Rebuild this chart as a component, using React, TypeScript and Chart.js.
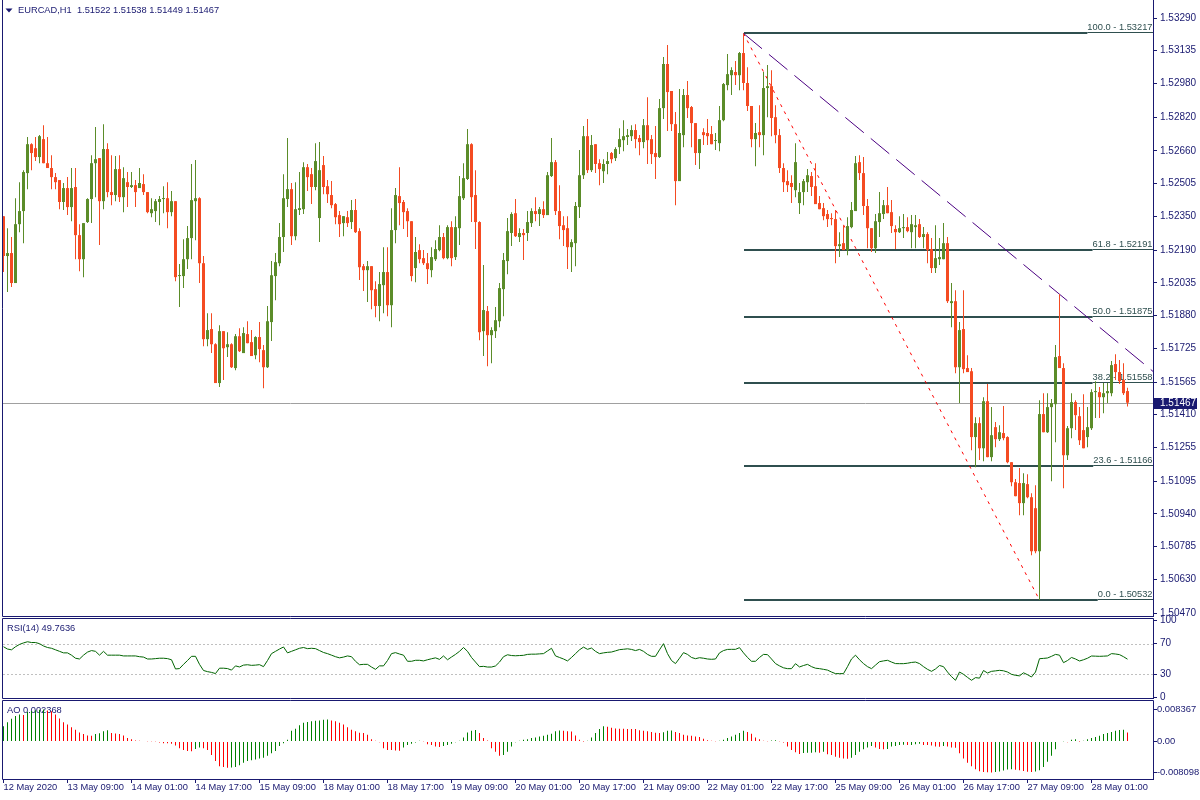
import React, { useEffect, useRef } from "react";
import { Chart, registerables } from "chart.js";

Chart.register(...registerables);

const FONT = '"Liberation Sans", Arial, sans-serif';
const NAVY = "#191970";
const BULL = "#5b8c29";
const BEAR = "#f44b22";
const FIB = "#2f4f4f";

const symbolTitle = "EURCAD,H1";

const timeLabels = [
  "12 May 2020", "13 May 09:00", "14 May 01:00", "14 May 17:00", "15 May 09:00",
  "18 May 01:00", "18 May 17:00", "19 May 09:00", "20 May 01:00", "20 May 17:00",
  "21 May 09:00", "22 May 01:00", "22 May 17:00", "25 May 09:00", "26 May 01:00",
  "26 May 17:00", "27 May 09:00", "28 May 01:00",
];
const timeLabelStep = 16;

const priceTicks = [
  1.5329, 1.53135, 1.5298, 1.5282, 1.5266, 1.52505, 1.5235, 1.5219, 1.52035, 1.5188,
  1.51725, 1.51565, 1.5141, 1.51255, 1.51095, 1.5094, 1.50785, 1.5063, 1.5047,
];

const openP = [
  1.52351,1.52162,1.52176,1.52034,1.52313,1.52375,1.52555,1.52692,1.52673,1.52631,
  1.52716,1.52602,1.52579,1.52536,1.52522,1.52418,1.52484,1.52394,1.52489,1.52261,
  1.52147,1.52323,1.52432,1.52602,1.52626,1.52422,1.52669,1.52465,1.52451,1.52574,
  1.52441,1.52512,1.52489,1.52498,1.52484,1.52503,1.52465,1.52365,1.52375,1.52418,
  1.52432,1.52436,1.52370,1.52422,1.52067,1.52067,1.52147,1.52247,1.52422,1.52436,
  1.52128,1.51768,1.51816,1.51744,1.51560,1.51806,1.51730,1.51744,1.51631,1.51782,
  1.51702,1.51792,1.51754,1.51692,1.51778,1.51716,1.51635,1.51849,1.52067,1.52128,
  1.52252,1.52432,1.52479,1.52256,1.52380,1.52384,1.52583,1.52550,1.52489,1.52342,
  1.52593,1.52493,1.52451,1.52408,1.52356,1.52318,1.52346,1.52323,1.52380,1.52280,
  1.52114,1.52095,1.52114,1.52005,1.51925,1.52024,1.52086,1.51929,1.52285,1.52446,
  1.52418,1.52375,1.52327,1.52105,1.52190,1.52152,1.52128,1.52095,1.52147,1.52190,
  1.52252,1.52152,1.52299,1.52157,1.52294,1.52436,1.52527,1.52692,1.52451,1.52323,
  1.51806,1.51901,1.51787,1.51806,1.51853,1.52005,1.52138,1.52271,1.52365,1.52252,
  1.52271,1.52271,1.52318,1.52375,1.52361,1.52384,1.52356,1.52541,1.52607,1.52375,
  1.52308,1.52294,1.52204,1.52223,1.52394,1.52545,1.52730,1.52569,1.52692,1.52602,
  1.52564,1.52598,1.52650,1.52626,1.52678,1.52711,1.52726,1.52730,1.52759,1.52721,
  1.52702,1.52782,1.52716,1.52650,1.52631,1.52863,1.53072,1.52944,1.52787,1.52517,
  1.52735,1.52925,1.52868,1.52792,1.52650,1.52749,1.52745,1.52740,1.52707,1.52697,
  1.52806,1.52972,1.53019,1.53034,1.53019,1.53124,1.52982,1.52873,1.52716,1.52749,
  1.52735,1.52958,1.52967,1.52820,1.52735,1.52579,1.52517,1.52508,1.52474,1.52413,
  1.52465,1.52512,1.52541,1.52493,1.52413,1.52389,1.52361,1.52342,1.52337,1.52209,
  1.52223,1.52190,1.52299,1.52375,1.52607,1.52555,1.52399,1.52294,1.52199,1.52323,
  1.52361,1.52403,1.52370,1.52290,1.52275,1.52294,1.52299,1.52275,1.52299,1.52313,
  1.52252,1.52266,1.52195,1.52105,1.52147,1.52147,1.52223,1.51939,1.51948,1.51635,
  1.51816,1.51631,1.51616,1.51304,1.51370,1.51251,1.51474,1.51209,1.51351,1.51294,
  1.51323,1.51304,1.51185,1.51090,1.51086,1.50991,1.51081,1.51019,1.50967,1.50763,
  1.51413,1.51327,1.51446,1.51460,1.51688,1.51631,1.51218,1.51346,1.51470,1.51403,
  1.51337,1.51304,1.51346,1.51517,1.51517,1.51493,1.51512,1.51512,1.51650,1.51612,
  1.51574,1.51522,
];

const highP = [
  1.52351,1.52294,1.52252,1.52436,1.52512,1.52569,1.52726,1.52697,1.52726,1.52735,
  1.52782,1.52726,1.52640,1.52555,1.52522,1.52508,1.52536,1.52579,1.52579,1.52313,
  1.52318,1.52436,1.52640,1.52773,1.52626,1.52787,1.52697,1.52640,1.52636,1.52640,
  1.52583,1.52560,1.52560,1.52522,1.52579,1.52550,1.52465,1.52436,1.52432,1.52446,
  1.52493,1.52512,1.52470,1.52422,1.52124,1.52242,1.52304,1.52598,1.52617,1.52441,
  1.52162,1.51891,1.51891,1.51749,1.51834,1.51806,1.51801,1.51749,1.51792,1.51820,
  1.51825,1.51853,1.51811,1.51782,1.51849,1.51740,1.51925,1.52138,1.52176,1.52318,
  1.52550,1.52721,1.52508,1.52512,1.52560,1.52607,1.52598,1.52579,1.52697,1.52702,
  1.52636,1.52522,1.52517,1.52413,1.52375,1.52351,1.52375,1.52427,1.52432,1.52294,
  1.52124,1.52138,1.52114,1.52043,1.52086,1.52204,1.52204,1.52389,1.52484,1.52583,
  1.52427,1.52389,1.52327,1.52252,1.52218,1.52190,1.52176,1.52204,1.52237,1.52308,
  1.52271,1.52308,1.52327,1.52351,1.52541,1.52602,1.52764,1.52697,1.52569,1.52327,
  1.52119,1.51925,1.51825,1.51920,1.52034,1.52176,1.52342,1.52370,1.52432,1.52294,
  1.52290,1.52375,1.52389,1.52441,1.52394,1.52422,1.52560,1.52721,1.52617,1.52498,
  1.52351,1.52351,1.52242,1.52418,1.52664,1.52778,1.52811,1.52735,1.52692,1.52621,
  1.52621,1.52655,1.52655,1.52678,1.52768,1.52806,1.52764,1.52782,1.52787,1.52735,
  1.52811,1.52915,1.52735,1.52778,1.52906,1.53105,1.53162,1.52944,1.52844,1.52953,
  1.52953,1.52991,1.52873,1.52792,1.52716,1.52768,1.52811,1.52778,1.52745,1.52873,
  1.52982,1.53119,1.53057,1.53086,1.53129,1.53217,1.53057,1.52873,1.52792,1.52877,
  1.53034,1.53067,1.53043,1.52877,1.52764,1.52602,1.52569,1.52545,1.52697,1.52508,
  1.52527,1.52574,1.52560,1.52602,1.52446,1.52413,1.52380,1.52365,1.52380,1.52275,
  1.52308,1.52346,1.52418,1.52636,1.52640,1.52631,1.52432,1.52294,1.52361,1.52465,
  1.52427,1.52489,1.52427,1.52308,1.52351,1.52361,1.52346,1.52356,1.52356,1.52337,
  1.52299,1.52275,1.52247,1.52308,1.52247,1.52318,1.52252,1.52034,1.52000,1.51849,
  1.52000,1.51692,1.51631,1.51398,1.51398,1.51493,1.51555,1.51446,1.51375,1.51360,
  1.51451,1.51308,1.51185,1.51105,1.51157,1.51133,1.51128,1.51038,1.51076,1.51479,
  1.51512,1.51512,1.51484,1.51740,1.51981,1.51654,1.51356,1.51512,1.51479,1.51446,
  1.51507,1.51446,1.51531,1.51569,1.51541,1.51560,1.51560,1.51664,1.51697,1.51669,
  1.51654,1.51538,
];

const lowP = [
  1.52086,1.51991,1.52015,1.52034,1.52275,1.52223,1.52479,1.52569,1.52612,1.52602,
  1.52602,1.52579,1.52479,1.52479,1.52384,1.52380,1.52356,1.52327,1.52147,1.52090,
  1.52062,1.52318,1.52318,1.52441,1.52214,1.52384,1.52441,1.52403,1.52422,1.52418,
  1.52370,1.52394,1.52484,1.52394,1.52484,1.52451,1.52365,1.52346,1.52323,1.52308,
  1.52365,1.52294,1.52351,1.52043,1.51920,1.52010,1.52100,1.52147,1.52237,1.52034,
  1.51735,1.51735,1.51702,1.51560,1.51541,1.51574,1.51683,1.51631,1.51621,1.51707,
  1.51702,1.51749,1.51688,1.51673,1.51659,1.51536,1.51631,1.51759,1.51953,1.52114,
  1.52181,1.52394,1.52214,1.52237,1.52356,1.52361,1.52470,1.52408,1.52474,1.52228,
  1.52455,1.52413,1.52389,1.52313,1.52252,1.52256,1.52299,1.52290,1.52271,1.52048,
  1.51996,1.51944,1.51910,1.51872,1.51853,1.51891,1.51877,1.51825,1.52223,1.52308,
  1.52290,1.52252,1.52043,1.52038,1.52128,1.52119,1.52029,1.52062,1.52138,1.52185,
  1.52147,1.52147,1.52114,1.52143,1.52214,1.52427,1.52522,1.52323,1.52195,1.51763,
  1.51688,1.51640,1.51654,1.51773,1.51825,1.51877,1.52076,1.52209,1.52252,1.52228,
  1.52143,1.52233,1.52299,1.52327,1.52304,1.52342,1.52356,1.52536,1.52356,1.52242,
  1.52209,1.52100,1.52086,1.52114,1.52342,1.52527,1.52555,1.52560,1.52555,1.52498,
  1.52508,1.52550,1.52602,1.52612,1.52645,1.52659,1.52688,1.52707,1.52673,1.52640,
  1.52673,1.52598,1.52598,1.52527,1.52626,1.52811,1.52754,1.52754,1.52403,1.52517,
  1.52678,1.52816,1.52678,1.52593,1.52574,1.52688,1.52688,1.52692,1.52664,1.52659,
  1.52801,1.52948,1.52925,1.52972,1.52948,1.52948,1.52849,1.52678,1.52588,1.52678,
  1.52640,1.52820,1.52730,1.52697,1.52555,1.52465,1.52465,1.52413,1.52441,1.52361,
  1.52403,1.52465,1.52446,1.52408,1.52384,1.52332,1.52299,1.52308,1.52128,1.52157,
  1.52190,1.52166,1.52294,1.52375,1.52522,1.52356,1.52199,1.52181,1.52176,1.52252,
  1.52337,1.52365,1.52271,1.52195,1.52271,1.52247,1.52275,1.52199,1.52199,1.52247,
  1.52199,1.52128,1.52081,1.52081,1.52119,1.52147,1.51939,1.51825,1.51607,1.51465,
  1.51607,1.51612,1.51242,1.51161,1.51195,1.51190,1.51209,1.51190,1.51256,1.51285,
  1.51289,1.51180,1.51071,1.51024,1.50934,1.50934,1.51014,1.50744,1.50754,1.50532,
  1.51327,1.51323,1.51095,1.51280,1.51631,1.51062,1.51195,1.51299,1.51337,1.51266,
  1.51251,1.51256,1.51337,1.51394,1.51394,1.51417,1.51465,1.51498,1.51574,1.51555,
  1.51503,1.51449,
];

const closeP = [
  1.52162,1.52176,1.52034,1.52313,1.52375,1.52560,1.52692,1.52650,1.52631,1.52730,
  1.52602,1.52579,1.52536,1.52512,1.52418,1.52484,1.52394,1.52484,1.52261,1.52147,
  1.52318,1.52432,1.52602,1.52621,1.52422,1.52669,1.52465,1.52451,1.52574,1.52441,
  1.52531,1.52489,1.52498,1.52465,1.52508,1.52465,1.52370,1.52384,1.52422,1.52432,
  1.52436,1.52370,1.52422,1.52062,1.52071,1.52147,1.52247,1.52427,1.52436,1.52128,
  1.51768,1.51811,1.51744,1.51560,1.51806,1.51725,1.51744,1.51635,1.51782,1.51711,
  1.51797,1.51749,1.51688,1.51778,1.51721,1.51635,1.51853,1.52071,1.52133,1.52252,
  1.52436,1.52479,1.52256,1.52384,1.52389,1.52583,1.52536,1.52489,1.52612,1.52569,
  1.52489,1.52455,1.52403,1.52346,1.52313,1.52351,1.52318,1.52380,1.52275,1.52109,
  1.52095,1.52114,1.52000,1.51925,1.52029,1.52086,1.51929,1.52285,1.52451,1.52413,
  1.52370,1.52327,1.52067,1.52181,1.52147,1.52128,1.52100,1.52157,1.52195,1.52252,
  1.52152,1.52299,1.52152,1.52299,1.52446,1.52531,1.52692,1.52441,1.52323,1.51801,
  1.51906,1.51787,1.51811,1.51858,1.52010,1.52143,1.52280,1.52361,1.52256,1.52271,
  1.52261,1.52323,1.52375,1.52361,1.52384,1.52356,1.52545,1.52607,1.52375,1.52304,
  1.52285,1.52204,1.52228,1.52399,1.52545,1.52730,1.52569,1.52688,1.52598,1.52574,
  1.52598,1.52612,1.52621,1.52669,1.52716,1.52730,1.52735,1.52759,1.52716,1.52702,
  1.52782,1.52711,1.52645,1.52631,1.52863,1.53072,1.52939,1.52787,1.52517,1.52745,
  1.52925,1.52863,1.52792,1.52650,1.52716,1.52735,1.52730,1.52692,1.52711,1.52806,
  1.52977,1.53024,1.53043,1.53019,1.53124,1.52982,1.52873,1.52716,1.52745,1.52735,
  1.52958,1.52967,1.52816,1.52735,1.52579,1.52512,1.52498,1.52489,1.52607,1.52465,
  1.52517,1.52545,1.52489,1.52408,1.52384,1.52351,1.52337,1.52337,1.52209,1.52218,
  1.52190,1.52304,1.52380,1.52602,1.52555,1.52399,1.52294,1.52199,1.52327,1.52365,
  1.52403,1.52365,1.52304,1.52275,1.52294,1.52299,1.52280,1.52313,1.52308,1.52252,
  1.52266,1.52190,1.52105,1.52152,1.52157,1.52223,1.51948,1.51948,1.51635,1.51811,
  1.51626,1.51612,1.51304,1.51370,1.51251,1.51474,1.51209,1.51313,1.51294,1.51327,
  1.51299,1.51185,1.51090,1.51024,1.50991,1.51086,1.51019,1.50763,1.50763,1.51413,
  1.51327,1.51446,1.51465,1.51683,1.51631,1.51218,1.51346,1.51470,1.51408,1.51289,
  1.51251,1.51351,1.51517,1.51522,1.51493,1.51512,1.51522,1.51645,1.51612,1.51569,
  1.51512,1.51467,
];

const rsiValues = [
  66,63,62,66,69,71,72.5,71.5,71.5,70,67,65,64,62,60,58,58,55,51,50,
  55,59,61,60,55,60,55,55,55,55,54,54,54,54,53,52.5,50,50,50.5,51,
  51,50.5,49,37,37.5,43,48,53.5,53.5,43,35,33.5,32.5,31,38,38,37.5,35.5,41,39.6,
  42,42.5,41.7,42,42.6,40,48,57,60,63,65.7,58,60,62,64,65,63.5,64,63.5,61,
  58.5,57,55,53,51.5,52.5,54,53,47,42.5,43,43,39.5,36.5,41,41,48,57,58.3,56.5,
  55,47,47,48.3,48.3,47.5,49,50.3,51.5,49.5,54,49,52.6,56,60,65,60,52,46,40,
  40.4,39.5,39.5,40.9,46,53,55.5,54.5,54.2,54.5,54.8,56,56.3,56.3,56.7,57,60.5,64,54,52,
  50,47.5,52,57,62,65.5,62.6,64.3,60,57,58,58.7,59.1,60.6,62.2,62.7,63.3,62.5,61,62.5,
  60,56,53.5,53.5,62,70,57,48,44,51,58.3,56,52,50.4,51.7,51,50,49.6,50,58,
  61,62.5,62.6,62.6,64.8,58,52,47,47,52,56,55.7,50,44,41,38.5,37.4,37.4,43.9,39.6,
  41.5,43,40,38,37.4,36.5,35.5,33,30.9,30.9,30.9,40,50,55,49,44,40,37.4,42,46.5,
  47.5,48.3,46,44,43.9,43.9,44.5,45.5,46,44,40,36.5,33.9,37,41.5,40,33,27,22.2,33,
  30,26,22.2,25.7,25,35,31.7,33.9,34.5,35.2,34.6,33,30,28.7,28,32,29.5,26.5,33,50.4,
  50.8,51.3,53.5,56,55,45.2,48,52,50,47.4,49,51,53.9,53.7,53.5,53.7,54,57,56.5,55.7,
  53,49.7636,
];
const rsiLevels = [70, 30];
const rsiTicks = [0, 30, 70, 100];

const aoValues = [
  0.00399,0.00506,0.00594,0.00665,0.0071,0.00692,0.00781,0.00798,0.00816,0.0083,
  0.008367,0.00815,0.0079,0.0071,0.00603,0.00506,0.00444,0.00373,0.0031,0.00239,
  0.00195,0.0016,0.00151,0.00195,0.00213,0.00266,0.00293,0.00222,0.0021,0.00195,
  0.0016,0.00089,0.00062,0.00027,0.00018,0.00013,0.00009,0.00004,-0.00009,-0.00027,
  -0.00044,-0.00049,-0.00062,-0.00106,-0.00177,-0.00222,-0.00248,-0.00253,-0.00195,-0.0016,
  -0.00177,-0.00222,-0.00355,-0.00514,-0.00648,-0.00665,-0.00685,-0.0068,-0.00665,-0.00621,
  -0.00559,-0.00514,-0.00488,-0.0047,-0.00444,-0.00426,-0.00373,-0.0031,-0.00248,-0.00115,
  -0.00044,0.00044,0.00284,0.00337,0.00426,0.00488,0.00514,0.00532,0.00541,0.0055,
  0.00568,0.00577,0.0055,0.00532,0.00488,0.00444,0.00373,0.0031,0.00266,0.00231,
  0.00222,0.00177,0.00062,0.00018,-0.00018,-0.00177,-0.00222,-0.00225,-0.00235,-0.0024,
  -0.0016,-0.00089,-0.00062,-0.00027,0.00018,0.00005,-0.00071,-0.00089,-0.00133,-0.00142,
  -0.00115,-0.00089,-0.00062,-0.00018,0.00018,0.00106,0.00239,0.00284,0.00302,0.00222,
  0.00089,0.00027,-0.00177,-0.00266,-0.00373,-0.00355,-0.00266,-0.00133,-0.00018,0.00018,
  0.00044,0.00062,0.00089,0.00106,0.00133,0.00151,0.00177,0.00204,0.00266,0.0029,
  0.00284,0.00266,0.00262,0.0016,0.00044,0.00002,0.00018,0.00106,0.00222,0.0033,
  0.00399,0.00385,0.00358,0.0034,0.00335,0.00332,0.0033,0.00328,0.00325,0.00293,
  0.00284,0.00266,0.00248,0.00231,0.00222,0.0024,0.00284,0.0029,0.00248,0.00222,
  0.00177,0.0016,0.00151,0.00133,0.00115,0.00071,0.00035,0.00018,0.00009,0.00018,
  0.00044,0.00089,0.00133,0.00177,0.00222,0.00284,0.00248,0.00204,0.00106,0.00062,
  0.0002,0.00005,0.00027,0.00035,-0.00005,-0.00027,-0.00133,-0.00222,-0.00284,-0.00328,
  -0.003,-0.00295,-0.00292,-0.00284,-0.00293,-0.00266,-0.00337,-0.00355,-0.00399,-0.00426,
  -0.00444,-0.0045,-0.00426,-0.00355,-0.00266,-0.00204,-0.0016,-0.00115,-0.0016,-0.00195,
  -0.00204,-0.00195,-0.00133,-0.00115,-0.00089,-0.00085,-0.00092,-0.00089,-0.00071,-0.00062,
  -0.00089,-0.00092,-0.00106,-0.00133,-0.00136,-0.00115,-0.00133,-0.0016,-0.00165,-0.0031,
  -0.00444,-0.00559,-0.00648,-0.00727,-0.0078,-0.008,-0.00805,-0.008098,-0.008,-0.00785,
  -0.0076,-0.00735,-0.00728,-0.0074,-0.00755,-0.00775,-0.0079,-0.008,-0.00785,-0.00754,
  -0.00665,-0.00532,-0.00373,-0.00204,-0.0001,0.00005,-0.0002,0.00044,0.00062,0.00002,
  0.00018,0.00062,0.00089,0.00115,0.00151,0.00195,0.00222,0.00248,0.00284,0.00302,
  0.00305,0.002368,
];
const aoTicks = [-0.008098, 0, 0.008367];
const aoTickLabels = ["-0.008098", "0.00", "0.008367"];

const fibRatios = ["100.0", "61.8", "50.0", "38.2", "23.6", "0.0"];
const fibPrices = [1.53217, 1.52191, 1.51875, 1.51558, 1.51166, 1.50532];
const fibHighIndex = 185;
const fibLowIndex = 259;
const trendIndex2 = 264;
const trendPrice2 = 1.51981;
const currentPrice = 1.51467;

const X_MIN = -0.125;
const X_MAX = 287.375;

function zeroPadding(s: any) {
  s.paddingTop = 0;
  s.paddingBottom = 0;
  s.paddingLeft = 0;
  s.paddingRight = 0;
}

function drawFrame(chart: any, withTop: boolean) {
  const { ctx, chartArea: a } = chart;
  ctx.save();
  ctx.strokeStyle = NAVY;
  ctx.lineWidth = 1;
  ctx.setLineDash([]);
  const l = a.left - 0.5, r = a.right + 0.5, t = a.top - 0.5, b = a.bottom + 0.5;
  ctx.beginPath();
  if (withTop) {
    ctx.moveTo(r, t);
    ctx.lineTo(l, t);
  } else {
    ctx.moveTo(l, 0);
  }
  ctx.lineTo(l, b);
  ctx.lineTo(r, b);
  ctx.lineTo(r, withTop ? t : 0);
  ctx.stroke();
  ctx.restore();
}

function rightAxis(
  min: number,
  max: number,
  ticks: number[],
  fmt: (v: any, i: number) => string,
  size: number,
  padding: number
) {
  return {
    type: "linear",
    position: "right",
    min,
    max,
    afterFit: (s: any) => {
      s.width = 47;
      zeroPadding(s);
    },
    afterBuildTicks: (s: any) => {
      s.ticks = ticks.map((v) => ({ value: v }));
    },
    ticks: {
      autoSkip: false,
      padding,
      color: NAVY,
      font: { family: FONT, size },
      callback: fmt,
    },
    grid: { drawOnChartArea: false, drawTicks: true, tickLength: 4, color: NAVY, lineWidth: 1 },
    border: { display: true, color: NAVY, width: 1 },
  };
}

const hiddenX = {
  type: "linear",
  display: false,
  min: X_MIN,
  max: X_MAX,
  offset: false,
  grid: { offset: false },
  afterFit: zeroPadding,
};

const mainOverlay = {
  id: "mainOverlay",
  beforeDatasetsDraw(chart: any) {
    const { ctx, chartArea: a, scales } = chart;
    const x = scales.x;
    const y = scales.y;
    ctx.save();
    ctx.beginPath();
    ctx.rect(a.left, a.top, a.right - a.left, a.bottom - a.top);
    ctx.clip();

    const yc = Math.round(y.getPixelForValue(currentPrice)) + 0.5;
    ctx.strokeStyle = "#a0a0a0";
    ctx.lineWidth = 1;
    ctx.beginPath();
    ctx.moveTo(a.left, yc);
    ctx.lineTo(a.right, yc);
    ctx.stroke();

    ctx.font = `9.3px ${FONT}`;
    ctx.textAlign = "left";
    ctx.textBaseline = "alphabetic";
    const fx0 = Math.round(x.getPixelForValue(fibHighIndex));
    fibPrices.forEach((p, k) => {
      const yy = Math.round(y.getPixelForValue(p));
      const label = `${fibRatios[k]} - ${p.toFixed(5)}`;
      const w = ctx.measureText(label).width;
      const tx = a.right - w - 0.5;
      ctx.fillStyle = FIB;
      ctx.fillRect(fx0, yy - 1, tx - fx0, 2);
      ctx.fillRect(tx, yy - 1, a.right - tx, 1);
      ctx.fillText(label, tx, yy - 3);
    });

    const p1x = x.getPixelForValue(fibHighIndex);
    const p1y = y.getPixelForValue(fibPrices[0]);
    const p2x = x.getPixelForValue(fibLowIndex);
    const p2y = y.getPixelForValue(fibPrices[fibPrices.length - 1]);
    ctx.strokeStyle = "#ff0000";
    ctx.lineWidth = 1;
    ctx.setLineDash([3, 5]);
    ctx.beginPath();
    ctx.moveTo(p1x, p1y);
    ctx.lineTo(p2x, p2y);
    ctx.stroke();

    const t2x = x.getPixelForValue(trendIndex2);
    const t2y = y.getPixelForValue(trendPrice2);
    const slope = (t2y - p1y) / (t2x - p1x);
    const ex = a.right + 5;
    const ey = p1y + slope * (ex - p1x);
    ctx.strokeStyle = "#4b0082";
    ctx.setLineDash([24, 9]);
    ctx.beginPath();
    ctx.moveTo(p1x, p1y);
    ctx.lineTo(ex, ey);
    ctx.stroke();
    ctx.restore();
  },
  afterDraw(chart: any) {
    const { ctx, chartArea: a, scales } = chart;
    drawFrame(chart, false);
    const y = scales.y;
    const yc = Math.round(y.getPixelForValue(currentPrice));
    ctx.save();
    ctx.fillStyle = NAVY;
    ctx.fillRect(a.right + 1, yc - 5, 43, 11);
    ctx.fillStyle = "#ffffff";
    ctx.font = `10px ${FONT}`;
    ctx.textAlign = "left";
    ctx.textBaseline = "middle";
    ctx.fillText(currentPrice.toFixed(5), a.right + 7, yc + 0.5);
    const n = closeP.length - 1;
    ctx.fillStyle = NAVY;
    ctx.beginPath();
    ctx.moveTo(5.5, 8.5);
    ctx.lineTo(12.5, 8.5);
    ctx.lineTo(9, 12.5);
    ctx.closePath();
    ctx.fill();
    ctx.font = `9.3px ${FONT}`;
    ctx.fillText(
      `${symbolTitle}  ${openP[n].toFixed(5)} ${highP[n].toFixed(5)} ${lowP[n].toFixed(5)} ${closeP[n].toFixed(5)}`,
      18,
      10.5
    );
    ctx.restore();
  },
};

const rsiOverlay = {
  id: "rsiOverlay",
  beforeDatasetsDraw(chart: any) {
    const { ctx, chartArea: a, scales } = chart;
    ctx.save();
    ctx.strokeStyle = "#c0c0c0";
    ctx.lineWidth = 1;
    ctx.setLineDash([2, 2]);
    rsiLevels.forEach((lv) => {
      const yy = Math.round(scales.y.getPixelForValue(lv)) + 0.5;
      ctx.beginPath();
      ctx.moveTo(a.left, yy);
      ctx.lineTo(a.right, yy);
      ctx.stroke();
    });
    ctx.setLineDash([]);
    ctx.fillStyle = NAVY;
    ctx.font = `9.3px ${FONT}`;
    ctx.textAlign = "left";
    ctx.textBaseline = "middle";
    ctx.fillText(`RSI(14) ${rsiValues[rsiValues.length - 1].toFixed(4)}`, 7, a.top + 9);
    ctx.restore();
  },
  afterDraw(chart: any) {
    drawFrame(chart, true);
  },
};

const aoOverlay = {
  id: "aoOverlay",
  beforeDatasetsDraw(chart: any) {
    const { ctx, chartArea: a } = chart;
    ctx.save();
    ctx.fillStyle = NAVY;
    ctx.font = `9.3px ${FONT}`;
    ctx.textAlign = "left";
    ctx.textBaseline = "middle";
    ctx.fillText(`AO ${aoValues[aoValues.length - 1].toFixed(6)}`, 7, a.top + 9);
    ctx.restore();
  },
  afterDraw(chart: any) {
    drawFrame(chart, true);
  },
};

export default function App() {
  const mainRef = useRef<HTMLCanvasElement>(null);
  const rsiRef = useRef<HTMLCanvasElement>(null);
  const aoRef = useRef<HTMLCanvasElement>(null);

  useEffect(() => {
    const charts: Chart[] = [];
    const candleColors = closeP.map((c, i) => (c >= openP[i] ? BULL : BEAR));

    charts.push(
      new Chart(mainRef.current as HTMLCanvasElement, {
        type: "bar",
        data: {
          datasets: [
            {
              data: highP.map((h, i) => ({ x: i, y: [lowP[i], h] })) as any,
              backgroundColor: candleColors,
              grouped: false,
              barThickness: 1,
              maxBarThickness: 1,
              borderWidth: 0,
              inflateAmount: 0,
              minBarLength: 1,
            } as any,
            {
              data: openP.map((o, i) => ({ x: i, y: [o, closeP[i]] })) as any,
              backgroundColor: candleColors,
              grouped: false,
              barThickness: 3,
              maxBarThickness: 3,
              borderWidth: 0,
              inflateAmount: 0,
              minBarLength: 1,
            } as any,
          ],
        },
        options: {
          responsive: false,
          animation: false,
          events: [],
          layout: { autoPadding: false, padding: { left: 3, top: 1, bottom: 1, right: 0 } },
          plugins: { legend: { display: false }, tooltip: { enabled: false } },
          scales: {
            x: hiddenX as any,
            y: rightAxis(1.504561, 1.533706, priceTicks, (v: any) => Number(v).toFixed(5), 10, 3) as any,
          },
        } as any,
        plugins: [mainOverlay],
      })
    );

    charts.push(
      new Chart(rsiRef.current as HTMLCanvasElement, {
        type: "line",
        data: {
          datasets: [
            {
              data: rsiValues.map((v, i) => ({ x: i, y: v })),
              borderColor: "#006400",
              borderWidth: 1,
              pointRadius: 0,
              tension: 0,
              fill: false,
            },
          ],
        },
        options: {
          responsive: false,
          animation: false,
          events: [],
          layout: { autoPadding: false, padding: { left: 3, top: 7, bottom: 7, right: 0 } },
          plugins: { legend: { display: false }, tooltip: { enabled: false } },
          scales: {
            x: hiddenX as any,
            y: rightAxis(-0.91, 102.2, rsiTicks, (v: any) => String(v), 10, 3) as any,
          },
        } as any,
        plugins: [rsiOverlay],
      })
    );

    const aoColors = aoValues.map((v, i) => (i === 0 || v >= aoValues[i - 1] ? "#008000" : "#ff0000"));
    charts.push(
      new Chart(aoRef.current as HTMLCanvasElement, {
        type: "bar",
        data: {
          datasets: [
            {
              data: aoValues.map((v, i) => ({ x: i, y: v })) as any,
              backgroundColor: aoColors,
              grouped: false,
              barThickness: 1,
              maxBarThickness: 1,
              borderWidth: 0,
              inflateAmount: 0,
            } as any,
          ],
        },
        options: {
          responsive: false,
          animation: false,
          events: [],
          layout: { autoPadding: false, padding: { left: 3, top: 7, bottom: 0, right: 0 } },
          plugins: { legend: { display: false }, tooltip: { enabled: false } },
          scales: {
            x: {
              type: "linear",
              position: "bottom",
              min: X_MIN,
              max: X_MAX,
              offset: false,
              afterFit: (s: any) => {
                s.height = 21;
                zeroPadding(s);
              },
              afterBuildTicks: (s: any) => {
                s.ticks = timeLabels.map((_, k) => ({ value: k * timeLabelStep }));
              },
              ticks: {
                autoSkip: false,
                maxRotation: 0,
                minRotation: 0,
                align: "start",
                padding: 0,
                color: NAVY,
                font: { family: FONT, size: 9.3, lineHeight: 1 },
                callback: (v: any) => timeLabels[Math.round(Number(v) / timeLabelStep)] ?? "",
              },
              grid: { drawOnChartArea: false, drawTicks: true, tickLength: 4, color: NAVY, offset: false },
              border: { display: true, color: NAVY },
            } as any,
            y: rightAxis(-0.009825, 0.010611, aoTicks, (_v: any, i: number) => aoTickLabels[i], 9.4, 0) as any,
          },
        } as any,
        plugins: [aoOverlay],
      })
    );

    return () => charts.forEach((c) => c.destroy());
  }, []);

  return (
    <div style={{ position: "absolute", left: 0, top: 0, width: 1200, height: 800, background: "#ffffff", overflow: "hidden" }}>
      <canvas ref={mainRef} width={1200} height={617} style={{ position: "absolute", left: 0, top: 0 }} />
      <canvas ref={rsiRef} width={1200} height={93} style={{ position: "absolute", left: 0, top: 612 }} />
      <canvas ref={aoRef} width={1200} height={106} style={{ position: "absolute", left: 0, top: 694 }} />
    </div>
  );
}
